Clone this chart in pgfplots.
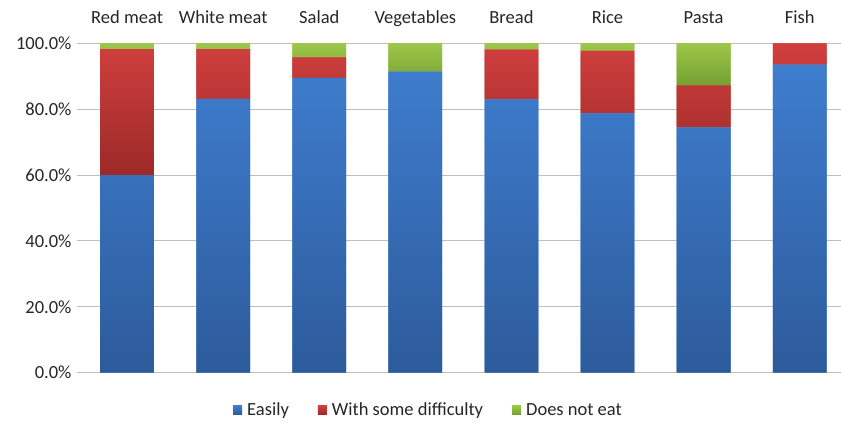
\documentclass[border=0pt]{standalone}
\usepackage{pgfplots}
\pgfplotsset{compat=1.18}
\usepackage{fontspec}
\setmainfont{Carlito}

\definecolor{blueTop}{HTML}{3E7DCE}
\definecolor{blueBot}{HTML}{2D5B9B}
\definecolor{redTop}{HTML}{D03F3E}
\definecolor{redBot}{HTML}{9C2A28}
\definecolor{greenTop}{HTML}{9DC748}
\definecolor{greenBot}{HTML}{74A032}
\definecolor{gridgray}{HTML}{BFBFBF}
\definecolor{txt}{HTML}{262626}

\begin{document}
\begin{tikzpicture}
\begin{axis}[
  name=ax,
  anchor=south west,
  scale only axis,
  width=761pt, height=329.4pt,
  ybar stacked,
  bar width=0.56,
  xmin=-0.49, xmax=7.43,
  ymin=0, ymax=100,
  xtick=data,
  xticklabels={Red meat,White meat,Salad,Vegetables,Bread,Rice,Pasta,Fish},
  xticklabel pos=upper,
  x tick style={draw=none},
  ytick={0,20,...,100},
  yticklabel={\pgfmathprintnumber[fixed,fixed zerofill,precision=1]{\tick}\%},
  y tick style={draw=gridgray, line width=0.9pt},
  tick align=outside,
  major tick length=3pt,
  ymajorgrids,
  grid style={draw=gridgray, line width=0.9pt},
  axis line style={draw=none},
  /pgf/number format/assume math mode=true,
  ticklabel style={font=\fontsize{18.5}{20}\selectfont, text=txt},
  xticklabel style={anchor=base, yshift=16.5pt},
  yticklabel style={xshift=-2pt},
  legend style={
    at={(axis description cs:0.458,0)}, anchor=north, yshift=-26pt,
    draw=none, fill=none,
    legend columns=-1,
    font=\fontsize{18.5}{20}\selectfont, text=txt,
    /tikz/every odd column/.append style={column sep=3pt},
    /tikz/every even column/.append style={column sep=27pt},
  },
  legend image code/.code={\fill[#1] (0pt,-4.5pt) rectangle (9pt,4.5pt);},
  legend cell align=left,
]
\addplot[draw=none, fill=blueTop, shading=axis, top color=blueTop, bottom color=blueBot]
  coordinates {(0,60.0) (1,83.1) (2,89.5) (3,91.4) (4,83.0) (5,78.7) (6,74.5) (7,93.5)};
\addplot[draw=none, fill=redTop, shading=axis, top color=redTop, bottom color=redBot]
  coordinates {(0,38.2) (1,15.1) (2,6.2) (3,0) (4,15.1) (5,19.0) (6,12.7) (7,6.5)};
\addplot[draw=none, fill=greenTop, shading=axis, top color=greenTop, bottom color=greenBot]
  coordinates {(0,1.8) (1,1.8) (2,4.3) (3,8.6) (4,1.9) (5,2.3) (6,12.8) (7,0)};
\legend{Easily, With some difficulty, Does not eat}
\end{axis}
% page frame: 841 x 425 around the plot area
\pgfresetboundingbox
\path[use as bounding box] ([shift={(-80pt,-52.3pt)}]ax.south west) rectangle ++(841pt,425pt);
\end{tikzpicture}
\end{document}
